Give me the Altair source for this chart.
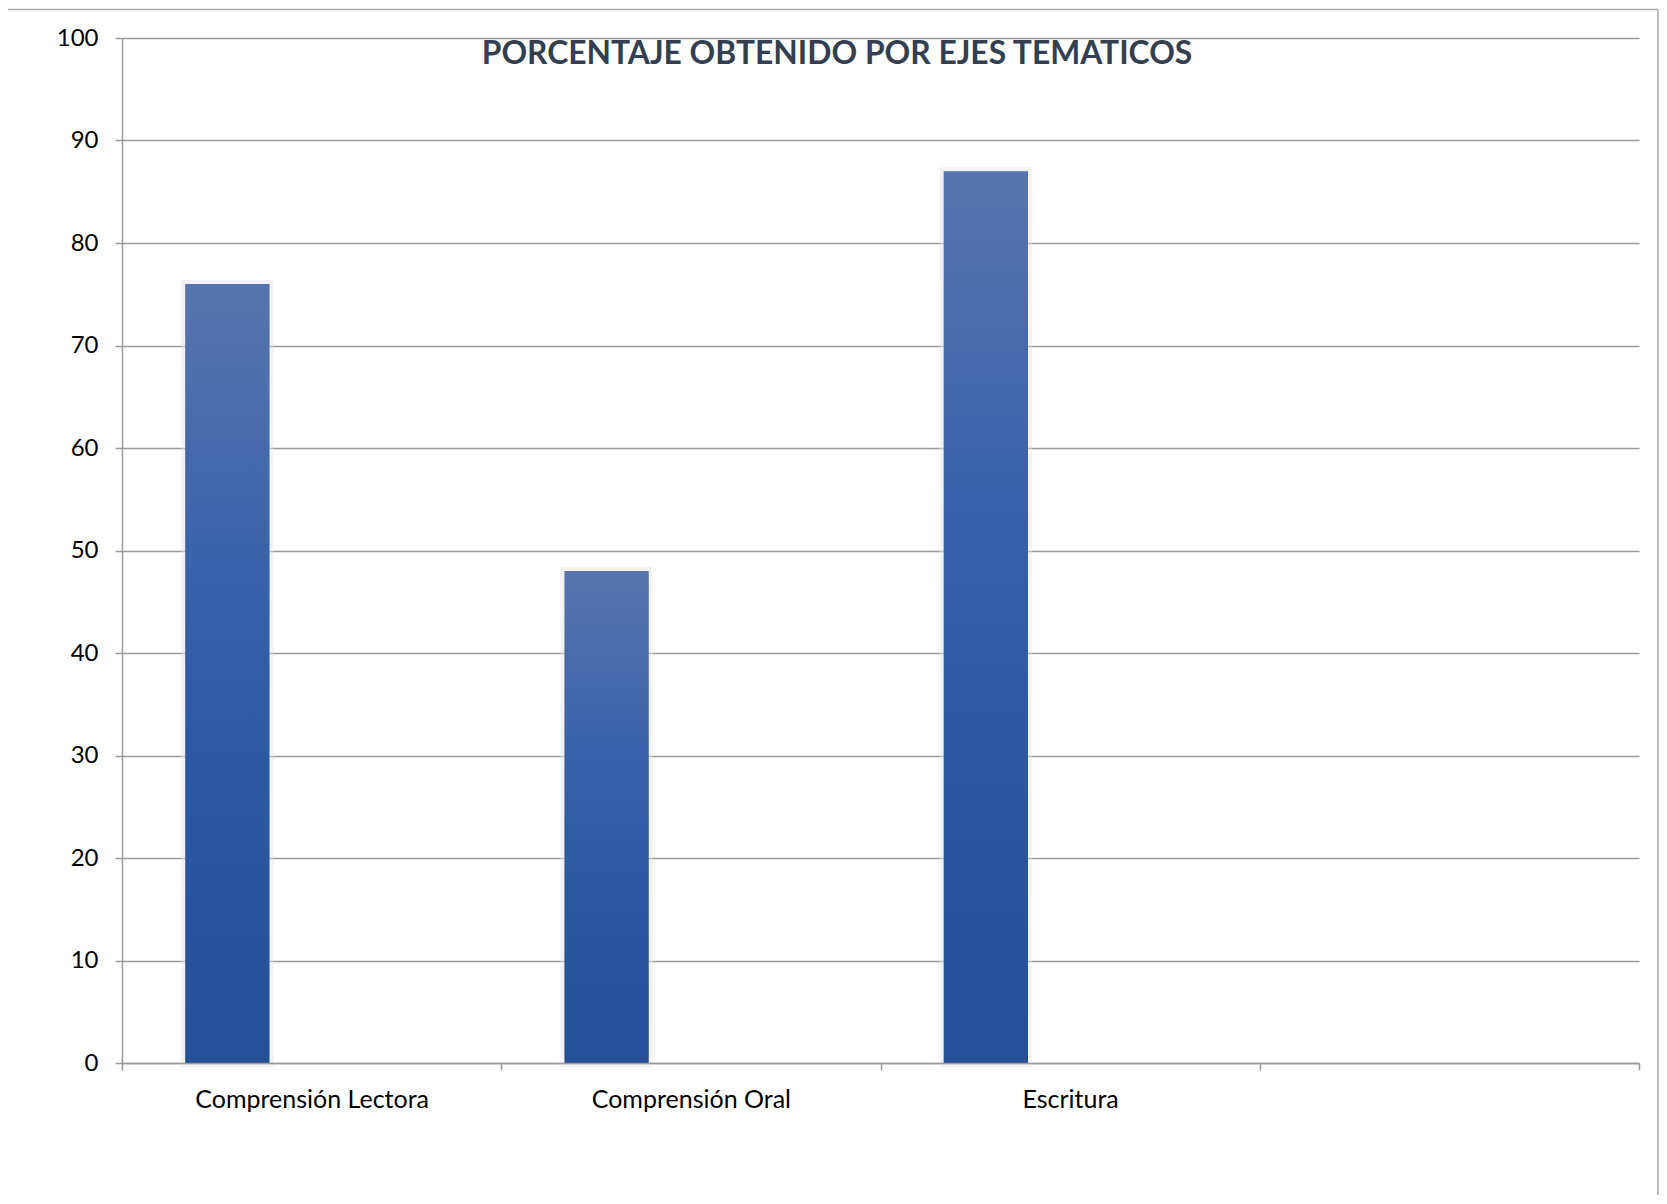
import altair as alt
import pandas as pd

# ---- data ----
categorias = ["Comprensión Lectora", "Comprensión Oral", "Escritura"]
valores = [76, 48, 87]
dominio_x = categorias + [""]          # 4th empty category slot
series = ["Serie 1", "Serie 2", "Serie 3"]
marcas_y = [0, 10, 20, 30, 40, 50, 60, 70, 80, 90, 100]
titulo = "PORCENTAJE OBTENIDO POR EJES TEMATICOS"

W, H = 1517, 1025
GRIS = "#9b9b9b"
MARCO = "#a8a8a8"

df = pd.DataFrame({"eje": categorias, "valor": valores, "serie": [series[0]] * len(categorias)})

x_enc = alt.X(
    "eje:N",
    sort=dominio_x,
    scale=alt.Scale(domain=dominio_x, paddingInner=0, paddingOuter=0),
    axis=alt.Axis(
        title=None, labelAngle=0, tickBand="extent", tickSize=7,
        tickColor=GRIS, tickWidth=1.5, domainColor=GRIS, domainWidth=1.5,
        labelFont="Lato", labelFontSize=25, labelColor="#000000", labelLimit=0,
        labelPadding=17, labelBaseline="top", zindex=1,
    ),
)
xo_enc = alt.XOffset(
    "serie:N",
    scale=alt.Scale(domain=series, paddingInner=0, paddingOuter=0.75),
)
y_enc = alt.Y(
    "valor:Q",
    scale=alt.Scale(domain=[0, 100], nice=False, zero=True),
    axis=alt.Axis(
        title=None, values=marcas_y, grid=True, gridColor=GRIS, gridWidth=1.5,
        tickSize=7, tickColor=GRIS, tickWidth=1.5, domainColor=GRIS, domainWidth=1.5,
        labelFont="Lato", labelFontSize=24, labelColor="#000000", labelPadding=17,
    ),
)

base = alt.Chart(df).encode(x=x_enc, xOffset=xo_enc, y=y_enc)

glow = base.mark_bar(color="#e6e6e6", stroke="#e6e6e6", strokeWidth=8, opacity=0.45)
sombra = base.mark_bar(color="#cdcdcd", xOffset=-5)
barras = base.mark_bar(
    color=alt.Gradient(
        gradient="linear",
        x1=0, y1=0, x2=0, y2=1,
        stops=[
            alt.GradientStop(color="#5874ae", offset=0),
            alt.GradientStop(color="#3b62aa", offset=0.35),
            alt.GradientStop(color="#2d58a3", offset=0.6),
            alt.GradientStop(color="#254f96", offset=1),
        ],
    )
)

texto_titulo = alt.Chart(pd.DataFrame({"t": [titulo]})).mark_text(
    font="Lato", fontWeight="bold", fontSize=31.8, color="#333f50",
    align="center", baseline="middle",
).encode(x=alt.value(715), y=alt.value(16), text="t:N")

vacio = alt.Data(values=[{}])
marco_izq = alt.Chart(vacio).mark_rule(color=MARCO, strokeWidth=1.5).encode(
    x=alt.value(-115), y=alt.value(-28.5), y2=alt.value(1160))
marco_sup = alt.Chart(vacio).mark_rule(color=MARCO, strokeWidth=1.5).encode(
    x=alt.value(-115), x2=alt.value(1536), y=alt.value(-28.5))
marco_der = alt.Chart(vacio).mark_rule(color=MARCO, strokeWidth=1.5).encode(
    x=alt.value(1536), y=alt.value(-28.5), y2=alt.value(1160))

chart = alt.layer(
    glow, sombra, barras, texto_titulo, marco_izq, marco_sup, marco_der
).properties(
    width=W, height=H,
    padding={"left": 114, "top": 30, "right": 20, "bottom": 132},
    autosize=alt.AutoSizeParams(type="none"),
    background="#ffffff",
).configure_view(stroke=None)

chart.save("out.html", embed_options={"renderer": "svg", "actions": False})
